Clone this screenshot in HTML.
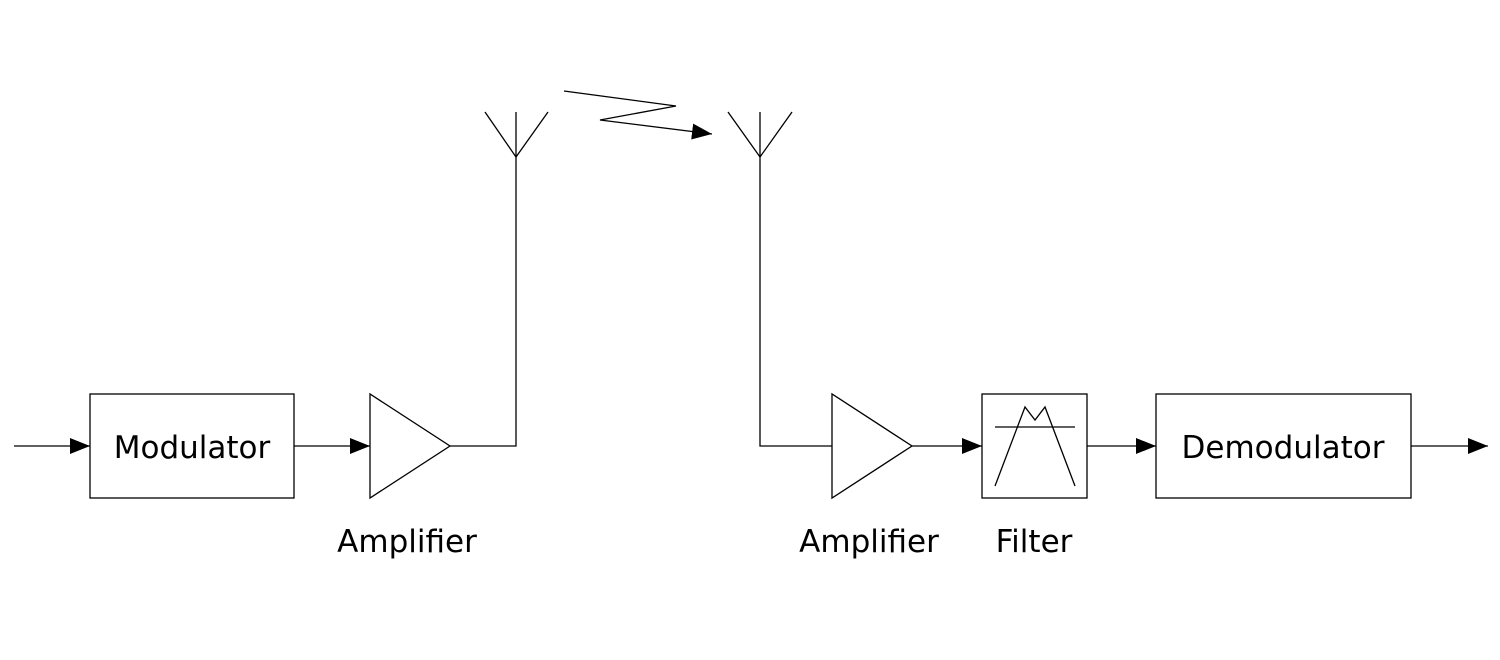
<!DOCTYPE html>
<html><head><style>
html,body{margin:0;padding:0;background:#fff;}
svg{display:block;}
text{font-family:"DejaVu Sans","Liberation Sans",sans-serif;font-size:31px;fill:#000;}
</style></head><body>
<svg width="1500" height="660" viewBox="0 0 1500 660">
<defs><marker id="a" markerWidth="20" markerHeight="16" refX="20" refY="8" orient="auto" markerUnits="userSpaceOnUse"><path d="M0,0 L20,8 L0,16 Z" fill="#000"/></marker></defs>
<g stroke="#000" stroke-width="1.3" fill="none">
<line x1="14" y1="446" x2="90" y2="446" marker-end="url(#a)"/>
<rect x="90" y="394" width="204" height="104" fill="#fff"/>
<line x1="294" y1="446" x2="370" y2="446" marker-end="url(#a)"/>
<polygon points="370,394 370,498 450,446" fill="#fff"/>
<polyline points="450,446 516,446 516,112"/>
<polyline points="485,112 516,157 548,112"/>
<polyline points="564,91 676,106 600,120 712,134" marker-end="url(#a)"/>
<polyline points="728,112 760,157 792,112"/>
<polyline points="760,112 760,446 832,446"/>
<polygon points="832,394 832,498 912,446" fill="#fff"/>
<line x1="912" y1="446" x2="982" y2="446" marker-end="url(#a)"/>
<rect x="982" y="394" width="105" height="104" fill="#fff"/>
<line x1="995" y1="427" x2="1075" y2="427"/>
<polyline points="995,486 1025,407 1035,420 1045,407 1075,486"/>
<line x1="1087" y1="446" x2="1156" y2="446" marker-end="url(#a)"/>
<rect x="1156" y="394" width="255" height="104" fill="#fff"/>
<line x1="1411" y1="446" x2="1488" y2="446" marker-end="url(#a)"/>
</g>
<text x="192" y="458" text-anchor="middle">Modulator</text>
<text x="1283" y="458" text-anchor="middle">Demodulator</text>
<text x="407" y="552" text-anchor="middle">Amplifier</text>
<text x="869" y="552" text-anchor="middle">Amplifier</text>
<text x="1034" y="552" text-anchor="middle">Filter</text>
</svg>
</body></html>
